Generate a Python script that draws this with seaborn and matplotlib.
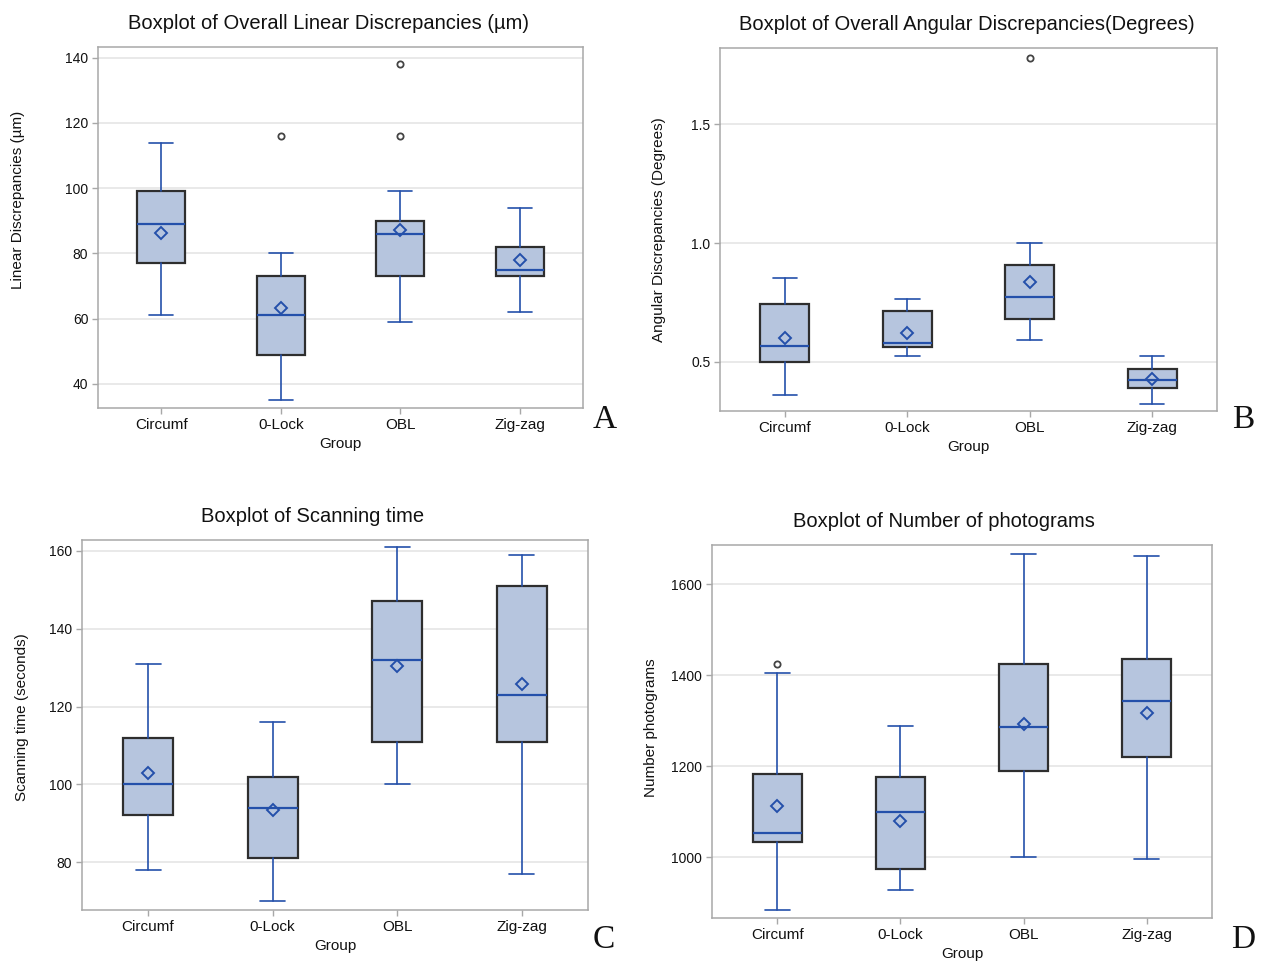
import matplotlib
matplotlib.use("Agg")
import matplotlib.pyplot as plt
import seaborn as sns

groups = ["Circumf", "0-Lock", "OBL", "Zig-zag"]

# panel A - linear discrepancies (um)
lin_lo = [61, 35, 59, 62]
lin_q1 = [77, 49, 73, 73]
lin_med = [89, 61, 86, 75]
lin_q3 = [99, 73, 90, 82]
lin_hi = [114, 80, 99, 94]
lin_mean = [86.3, 63.2, 87.1, 78.0]
lin_out = [[], [116], [138, 116], []]

# panel B - angular discrepancies (degrees)
ang_lo = [0.362, 0.525, 0.594, 0.325]
ang_q1 = [0.500, 0.563, 0.679, 0.391]
ang_med = [0.566, 0.580, 0.775, 0.423]
ang_q3 = [0.742, 0.713, 0.909, 0.471]
ang_hi = [0.855, 0.765, 1.000, 0.525]
ang_mean = [0.599, 0.622, 0.838, 0.428]
ang_out = [[], [], [1.778], []]

# panel C - scanning time (s)
scan_lo = [78, 70, 100, 77]
scan_q1 = [92, 81, 111, 111]
scan_med = [100, 94, 132, 123]
scan_q3 = [112, 102, 147, 151]
scan_hi = [131, 116, 161, 159]
scan_mean = [102.9, 93.4, 130.3, 125.7]
scan_out = [[], [], [], []]

# panel D - number of photograms
ph_lo = [883, 928, 1001, 996]
ph_q1 = [1033, 974, 1190, 1220]
ph_med = [1052, 1099, 1286, 1342]
ph_q3 = [1182, 1177, 1425, 1435]
ph_hi = [1404, 1288, 1667, 1662]
ph_mean = [1112, 1080, 1293, 1316]
ph_out = [[1425], [], [], []]

sns.set_theme(style="whitegrid")
plt.rcParams["font.family"] = ["Liberation Sans", "DejaVu Sans"]
plt.rcParams["text.color"] = "#111111"
plt.rcParams["axes.labelcolor"] = "#111111"
plt.rcParams["xtick.labelcolor"] = "#111111"
plt.rcParams["ytick.labelcolor"] = "#111111"

FILL = "#b6c5de"
EDGE = "#2e2e2e"
BLUE = "#2450aa"

W, H = 1262, 969
fig = plt.figure(figsize=(W / 100, H / 100), dpi=100)


def make_stats(lo, q1, med, q3, hi, mean, out):
    stats = []
    for i in range(len(groups)):
        stats.append(dict(label=groups[i], whislo=lo[i], q1=q1[i], med=med[i],
                          q3=q3[i], whishi=hi[i], mean=mean[i], fliers=out[i]))
    return stats


def panel(box, stats, title, title_x, ylabel, ylab_x, ylab_y, ylim, yticks, yfmt, letter, letter_xy):
    l, t, r, b = box
    ax = fig.add_axes([l / W, 1 - b / H, (r - l) / W, (b - t) / H])
    ax.bxp(stats, positions=range(4), widths=0.4, capwidths=0.2,
           showmeans=True, patch_artist=True,
           boxprops=dict(facecolor=FILL, edgecolor=EDGE, linewidth=1.6),
           whiskerprops=dict(color=BLUE, linewidth=1.2),
           capprops=dict(color=BLUE, linewidth=1.2),
           medianprops=dict(color=BLUE, linewidth=1.6),
           meanprops=dict(marker="D", markerfacecolor="none", markeredgecolor=BLUE,
                          markeredgewidth=1.4, markersize=6.5),
           flierprops=dict(marker="o", markerfacecolor="none", markeredgecolor="#444444",
                           markeredgewidth=1.3, markersize=4.5))
    ax.set_xlim(-0.53, 3.53)
    ax.set_ylim(*ylim)
    ax.set_yticks(yticks)
    ax.set_yticklabels([yfmt.format(v) for v in yticks])
    ax.set_xticks(range(4))
    ax.set_xticklabels(groups)
    ax.grid(axis="x", visible=False)
    ax.grid(axis="y", color="#e3e3e3", linewidth=1.1)
    ax.set_axisbelow(True)
    for s in ax.spines.values():
        s.set_color("#a8a8a8")
        s.set_linewidth(1.1)
    ax.tick_params(axis="x", labelsize=11, length=4, width=1, color="#a8a8a8", pad=3, bottom=True)
    ax.tick_params(axis="y", labelsize=10, length=4, width=1, color="#a8a8a8", pad=3, left=True)
    ax.set_xlabel("Group", fontsize=11, labelpad=4)
    ax.set_ylabel(ylabel, fontsize=11)
    ax.yaxis.set_label_coords(ylab_x, ylab_y)
    ax.set_title(title, fontsize=14.5, x=title_x, pad=13)
    fig.text(letter_xy[0] / W, 1 - letter_xy[1] / H, letter, fontsize=24,
             family=["Liberation Serif", "DejaVu Serif"], ha="center", va="center")
    return ax


panel((98, 47, 583, 408), make_stats(lin_lo, lin_q1, lin_med, lin_q3, lin_hi, lin_mean, lin_out),
      "Boxplot of Overall Linear Discrepancies (µm)", 0.476,
      "Linear Discrepancies (µm)", -0.15, 0.576,
      (32.6, 143.3), [40, 60, 80, 100, 120, 140], "{:.0f}", "A", (605, 420))

panel((720, 48, 1217, 411), make_stats(ang_lo, ang_q1, ang_med, ang_q3, ang_hi, ang_mean, ang_out),
      "Boxplot of Overall Angular Discrepancies(Degrees)", 0.497,
      "Angular Discrepancies (Degrees)", -0.108, 0.5,
      (0.294, 1.82), [0.5, 1.0, 1.5], "{:.1f}", "B", (1243, 420))

panel((82, 540, 588, 910), make_stats(scan_lo, scan_q1, scan_med, scan_q3, scan_hi, scan_mean, scan_out),
      "Boxplot of Scanning time", 0.455,
      "Scanning time (seconds)", -0.105, 0.52,
      (67.7, 162.8), [80, 100, 120, 140, 160], "{:.0f}", "C", (604, 940))

panel((712, 545, 1212, 918), make_stats(ph_lo, ph_q1, ph_med, ph_q3, ph_hi, ph_mean, ph_out),
      "Boxplot of Number of photograms", 0.464,
      "Number photograms", -0.108, 0.51,
      (866, 1686), [1000, 1200, 1400, 1600], "{:.0f}", "D", (1243, 940))

fig.savefig("out.png", dpi=100, facecolor="white")
